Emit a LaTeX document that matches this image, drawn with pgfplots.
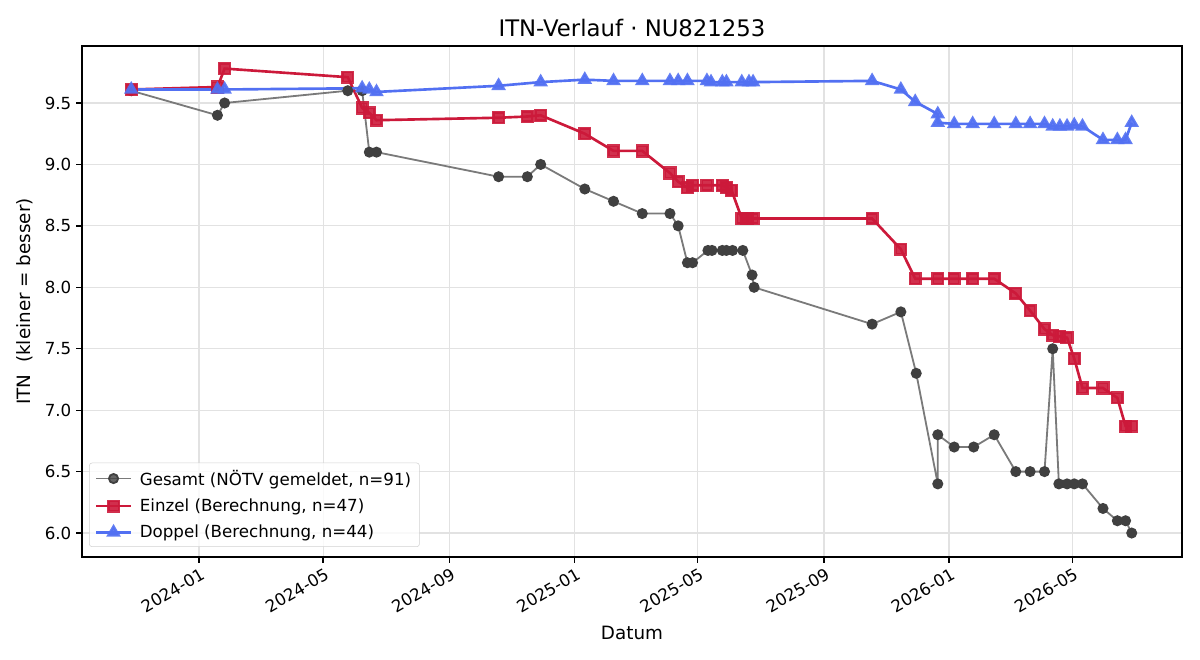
\documentclass[border=0pt]{standalone}
\usepackage{fontspec}
\setmainfont{DejaVu Sans}
\usepackage{pgfplots}
\pgfplotsset{compat=1.18}
\definecolor{gesamtline}{RGB}{122,122,122}
\definecolor{gesamtmark}{RGB}{64,64,64}
\definecolor{einzel}{RGB}{204,25,58}
\definecolor{doppel}{RGB}{82,112,242}
\definecolor{gridc}{RGB}{226,226,226}
\definecolor{legc}{RGB}{210,210,210}
\begin{document}
\begin{tikzpicture}[x=1pt,y=1pt]
\useasboundingbox (-59.04,-74.16) rectangle (804.96,401.04);
\begin{axis}[
  at={(0,0)}, anchor=south west,
  scale only axis, width=792pt, height=367.92pt,
  xmin=-114, xmax=958, ymin=5.805, ymax=9.964,
  axis line style={line width=0.96pt},
  tick align=outside, xtick pos=bottom, ytick pos=left,
  major tick length=4.2pt,
  every tick/.style={black, line width=0.96pt},
  grid=major, grid style={gridc, line width=0.9pt},
  xtick={0,121,244,366,486,609,731,851},
  xticklabels={2024-01,2024-05,2024-09,2025-01,2025-05,2025-09,2026-01,2026-05},
  ytick={6,6.5,7,7.5,8,8.5,9,9.5},
  /pgf/number format/assume math mode=true,
  yticklabel style={/pgf/number format/.cd, fixed, fixed zerofill, precision=1},
  ticklabel style={font=\fontsize{12}{14.4}\selectfont},
  xticklabel style={rotate=30, anchor=north east, inner sep=1pt, yshift=-2pt},
  title={ITN-Verlauf · NU821253},
  title style={at={(axis description cs:0.5,1.0194)}, anchor=center, yshift=0pt, font=\fontsize{16.4}{19.7}\selectfont},
  xlabel={Datum},
  xlabel style={at={(axis description cs:0.5,-0.1487)}, anchor=center, font=\fontsize{13.2}{15.8}\selectfont},
  ylabel={ITN\ \ (kleiner = besser)},
  ylabel style={at={(axis description cs:-0.0518,0.5)}, anchor=center, rotate=0, font=\fontsize{13.2}{15.8}\selectfont},
  legend style={at={(axis description cs:0.0064,0.0196)}, anchor=south west,
    draw=legc, rounded corners=2pt, fill=white, fill opacity=0.8, text opacity=1,
    font=\fontsize{12}{14.4}\selectfont, row sep=4.3pt, column sep=3.5pt, inner xsep=4pt, inner ysep=3pt},
  legend cell align=left,
  legend image code/.code={\draw[mark repeat=2,mark phase=2] plot coordinates {(0pt,0pt)(12.5pt,0pt)(25pt,0pt)};},
]
\addplot[gesamtline, line width=1.3pt, mark=*, mark size=3.3pt, mark options={fill=gesamtmark, draw=gesamtmark}] coordinates {
(-66,9.6)(18,9.4)(25,9.5)(145,9.6)(159,9.6)(166,9.1)(173,9.1)(292,8.9)(320,8.9)(333,9.0)
(376,8.8)(404,8.7)(432,8.6)(459,8.6)(467,8.5)(476,8.2)(481,8.2)(496,8.3)(500,8.3)(510,8.3)
(514,8.3)(520,8.3)(530,8.3)(539,8.1)(541,8.0)(656,7.7)(684,7.8)(699,7.3)(720,6.4)(720,6.8)
(736,6.7)(755,6.7)(775,6.8)(796,6.5)(810,6.5)(824,6.5)(832,7.5)(838,6.4)(846,6.4)(853,6.4)
(861,6.4)(881,6.2)(895,6.1)(903,6.1)(909,6.0)};
\addlegendentry{Gesamt (NÖTV gemeldet, n=91)}
\addplot[einzel, line width=1.9pt, mark=square*, mark size=3.8pt, mark options={fill=einzel, draw=einzel, opacity=0.9}] coordinates {
(-66,9.61)(18,9.63)(25,9.78)(145,9.71)(159,9.46)(166,9.42)(173,9.36)(292,9.38)(320,9.39)(333,9.40)
(376,9.25)(404,9.11)(432,9.11)(459,8.93)(467,8.86)(476,8.81)(481,8.83)(495,8.83)(510,8.83)(514,8.81)
(519,8.79)(529,8.56)(534,8.56)(540,8.56)(656,8.56)(684,8.31)(698,8.07)(720,8.07)(736,8.07)(754,8.07)
(775,8.07)(796,7.95)(810,7.81)(824,7.66)(832,7.61)(839,7.60)(846,7.59)(853,7.42)(861,7.18)(881,7.18)
(895,7.10)(903,6.87)(909,6.87)};
\addlegendentry{Einzel (Berechnung, n=47)}
\addplot[doppel, line width=1.9pt, mark=triangle*, mark size=4.2pt, mark options={fill=doppel, draw=doppel, opacity=0.9}] coordinates {
(-66,9.61)(18,9.61)(25,9.61)(159,9.62)(166,9.61)(173,9.59)(292,9.64)(333,9.67)(376,9.69)(404,9.68)
(432,9.68)(459,9.68)(467,9.68)(476,9.68)(495,9.68)(499,9.67)(510,9.67)(514,9.67)(529,9.67)(536,9.67)
(540,9.67)(656,9.68)(684,9.61)(698,9.51)(720,9.41)(720,9.34)(736,9.33)(754,9.33)(775,9.33)(796,9.33)
(810,9.33)(824,9.33)(832,9.31)(839,9.31)(846,9.31)(853,9.32)(861,9.31)(881,9.20)(895,9.20)(903,9.20)
(909,9.34)};
\addlegendentry{Doppel (Berechnung, n=44)}
\end{axis}
\end{tikzpicture}
\end{document}
